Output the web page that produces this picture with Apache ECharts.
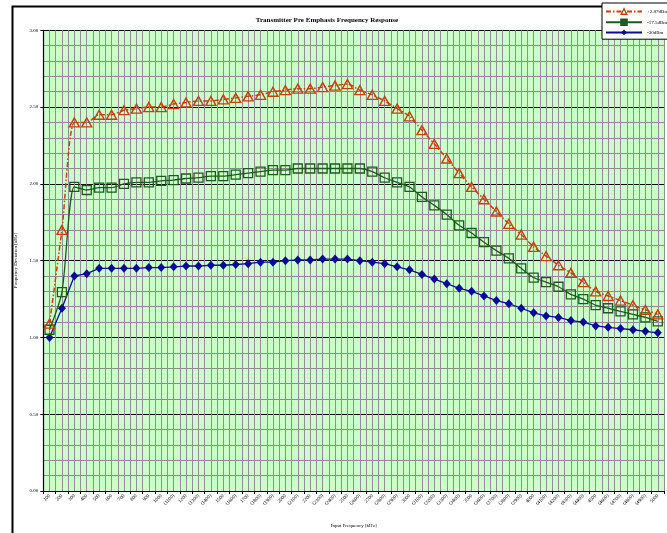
<!DOCTYPE html>
<html>
<head>
<meta charset="utf-8">
<script src="https://cdn.jsdelivr.net/npm/echarts@6/dist/echarts.min.js"></script>
<style>
html,body{margin:0;padding:0;background:#fff;}
#c{width:667px;height:533px;}
</style>
</head>
<body>
<div id="c"></div>
<script>
const xLabels = ['100','200','300','400','500','600','700','800','900','1000',
 '(1100)','1200','(1300)','(1400)','1500','(1600)','1700','(1800)','(1900)','2000',
 '(2100)','2200','(2300)','(2400)','2500','(2600)','2700','(2800)','(2900)','3000',
 '(3100)','(3200)','(3300)','(3400)','3500','(3600)','(3700)','(3800)','(3900)','4000',
 '(4100)','(4200)','(4300)','(4400)','4500','(4600)','(4700)','(4800)','(4900)','5000'];

const seriesNames = ['+2.87dBm','-17.5dBm','-30dBm'];

const dataHigh = [1.09,1.70,2.40,2.40,2.45,2.45,2.48,2.49,2.50,2.50,
 2.52,2.53,2.54,2.54,2.55,2.56,2.57,2.58,2.60,2.61,
 2.62,2.62,2.63,2.64,2.65,2.61,2.58,2.54,2.49,2.44,
 2.35,2.26,2.165,2.07,1.98,1.90,1.82,1.74,1.67,1.59,
 1.53,1.47,1.42,1.36,1.30,1.27,1.24,1.21,1.18,1.15];

const dataMid = [1.05,1.295,1.98,1.96,1.975,1.975,2.00,2.01,2.01,2.02,
 2.025,2.035,2.04,2.05,2.05,2.06,2.07,2.08,2.09,2.09,
 2.10,2.10,2.10,2.10,2.10,2.10,2.08,2.04,2.01,1.98,
 1.915,1.86,1.80,1.73,1.68,1.62,1.565,1.515,1.45,1.39,
 1.36,1.33,1.28,1.25,1.21,1.19,1.17,1.15,1.13,1.105];

const dataLow = [1.00,1.19,1.40,1.415,1.45,1.45,1.45,1.45,1.455,1.455,
 1.46,1.465,1.465,1.47,1.47,1.475,1.48,1.49,1.49,1.50,
 1.505,1.505,1.51,1.51,1.51,1.50,1.49,1.48,1.46,1.44,
 1.41,1.38,1.35,1.32,1.30,1.27,1.24,1.22,1.19,1.16,
 1.14,1.13,1.11,1.10,1.075,1.066,1.058,1.05,1.04,1.03];

const yMin = 0, yMax = 3, yInterval = 0.5;

const cOrange = '#c2410f', cGreen = '#1d5a1d', cBlue = '#0a0a96';
const serif = '"Liberation Serif","DejaVu Serif",serif';

const chart = echarts.init(document.getElementById('c'));
chart.setOption({
  animation: false,
  backgroundColor: '#ffffff',
  title: {
    text: 'Transmitter Pre Emphasis Frequency Response',
    left: 322, top: 12, textAlign: 'center',
    textStyle: {fontFamily: serif, fontSize: 7, fontWeight: 'bold', color: '#000'}
  },
  graphic: [{
    type: 'rect', left: 10, top: 4, z: -10, silent: true,
    shape: {width: 700, height: 600},
    style: {fill: 'none', stroke: '#000', lineWidth: 2}
  }],
  legend: {
    orient: 'vertical', left: 602, top: 3,
    padding: [5, 14, 4, 3],
    itemWidth: 36, itemHeight: 7, itemGap: 3.5,
    backgroundColor: '#fff', borderColor: '#000', borderWidth: 1,
    textStyle: {fontFamily: serif, fontSize: 5, color: '#000'},
    data: [
      {name: seriesNames[0], itemStyle: {color: '#fff', borderColor: cOrange, borderWidth: 1.4}},
      {name: seriesNames[1], itemStyle: {color: cGreen}},
      {name: seriesNames[2]}
    ]
  },
  grid: {left: 43.3, right: 3, top: 30.3, bottom: 39.7},
  xAxis: [{
    type: 'category', data: xLabels, boundaryGap: true,
    name: 'Input Frequency [kHz]', nameLocation: 'middle', nameGap: 32,
    nameTextStyle: {fontFamily: serif, fontSize: 5, color: '#000'},
    axisLine: {lineStyle: {color: '#000', width: 1.2}},
    axisTick: {show: true, length: 3, lineStyle: {color: '#000'}},
    axisLabel: {interval: 0, rotate: 45, fontFamily: serif, fontSize: 5, color: '#000', margin: 4},
    splitLine: {show: false}
  }, {
    type: 'value', min: 0, max: 100, interval: 1, position: 'top',
    axisLine: {show: false}, axisTick: {show: false}, axisLabel: {show: false},
    splitLine: {show: true, lineStyle: {color: '#909090', width: 1}}
  }],
  yAxis: {
    type: 'value', min: yMin, max: yMax, interval: yInterval,
    name: 'Frequency Deviation [kHz]', nameLocation: 'middle', nameGap: 21,
    nameTextStyle: {fontFamily: serif, fontSize: 5, color: '#000'},
    axisLine: {show: true, lineStyle: {color: '#000', width: 1.2}},
    axisTick: {show: true, length: 3, lineStyle: {color: '#000'}},
    axisLabel: {fontFamily: serif, fontSize: 5, color: '#000', margin: 5,
      formatter: v => v.toFixed(2)},
    splitLine: {show: true, lineStyle: {color: '#000', width: 1}},
    minorTick: {show: false, splitNumber: 5},
    minorSplitLine: {show: true, lineStyle: {color: '#8c8c8c', width: 1}},
    splitArea: {show: true, areaStyle: {color: ['#ccffcc', '#ccffcc']}}
  },
  series: [{
    name: seriesNames[0], type: 'line', data: dataHigh, xAxisIndex: 0, z: 4,
    smooth: 0.25,
    symbol: 'triangle', symbolSize: [10, 9],
    lineStyle: {color: cOrange, width: 1.5, type: [5, 2, 1.5, 2]},
    itemStyle: {color: 'rgba(0,0,0,0)', borderColor: cOrange, borderWidth: 1.4}
  }, {
    name: seriesNames[1], type: 'line', data: dataMid, xAxisIndex: 0, z: 3,
    smooth: 0.25,
    symbol: 'rect', symbolSize: 9,
    lineStyle: {color: cGreen, width: 1.3},
    itemStyle: {color: 'rgba(0,0,0,0)', borderColor: cGreen, borderWidth: 1.3}
  }, {
    name: seriesNames[2], type: 'line', data: dataLow, xAxisIndex: 0, z: 2,
    symbol: 'diamond', symbolSize: [8, 9],
    lineStyle: {color: cBlue, width: 1.3},
    itemStyle: {color: cBlue, borderColor: cBlue, borderWidth: 0}
  }]
});
</script>
</body>
</html>
